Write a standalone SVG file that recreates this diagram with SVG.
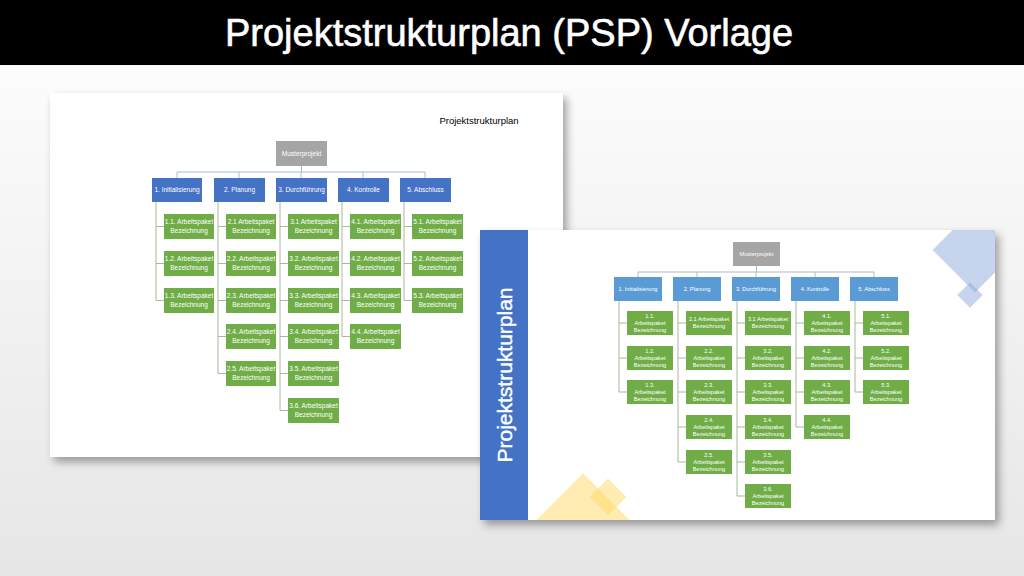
<svg xmlns="http://www.w3.org/2000/svg" width="1024" height="576" viewBox="0 0 1024 576">
<defs>
<linearGradient id="bg" x1="0" y1="0" x2="0" y2="1"><stop offset="0" stop-color="#ffffff"/><stop offset="1" stop-color="#e6e6e6"/></linearGradient>
<filter id="sh" x="-10%" y="-10%" width="130%" height="130%"><feDropShadow dx="4" dy="5" stdDeviation="4" flood-color="#000" flood-opacity="0.35"/></filter>
<clipPath id="cp"><rect x="480" y="230" width="515" height="290"/></clipPath>
</defs>
<style>
text{font-family:"Liberation Sans",Arial,sans-serif;fill:#fff;text-anchor:middle}
.gl{fill:#70AD47}.bl{fill:#4472C4}.br{fill:#5B9BD5}.gy{fill:#A5A5A5}
.t1{font-size:6.5px}.t2{font-size:5.6px}
.c path{fill:none;stroke:#a9bccf;stroke-width:1}
.c .v{stroke:#a7b99a}
.db{fill:#8faadc;fill-opacity:0.5}.dy{fill:#ffd966;fill-opacity:0.5}
</style>
<rect width="1024" height="576" fill="url(#bg)"/>
<rect width="1024" height="65" fill="#000"/>
<text x="509" y="46" style="font-size:38px;stroke:#fff;stroke-width:0.6">Projektstrukturplan (PSP) Vorlage</text>

<g id="slide1">
<rect x="50" y="93" width="513" height="364" fill="#fff" filter="url(#sh)"/>
<text x="479" y="124" style="font-size:9.5px;fill:#000">Projektstrukturplan</text>
</g>
<g class="c" id="conn1">
<path d="M301.5 166V172M177 172H425M177 172V178M239 172V178M301 172V178M363 172V178M425 172V178"/>
<path class="v" d="M156 202V300.5M156 226.5H164M156 263.5H164M156 300.5H164"/>
<path class="v" d="M218 202V373.5M218 226.5H226M218 263.5H226M218 300.5H226M218 336.5H226M218 373.5H226"/>
<path class="v" d="M280 202V410.5M280 226.5H288M280 263.5H288M280 300.5H288M280 336.5H288M280 373.5H288M280 410.5H288"/>
<path class="v" d="M342 202V336.5M342 226.5H350M342 263.5H350M342 300.5H350M342 336.5H350"/>
<path class="v" d="M404 202V300.5M404 226.5H412M404 263.5H412M404 300.5H412"/>
</g>
<g id="l-root"><rect class="gy" x="276" y="141" width="51" height="25"/><text class="t1" x="301.5" y="156">Musterprojekt</text></g>
<g id="l-1"><rect class="bl" x="152" y="178" width="50" height="24"/><text class="t1" x="177" y="192">1. Initialisierung</text></g>
<g id="l-2"><rect class="bl" x="214" y="178" width="51" height="24"/><text class="t1" x="239.5" y="192">2. Planung</text></g>
<g id="l-3"><rect class="bl" x="276" y="178" width="51" height="24"/><text class="t1" x="301.5" y="192">3. Durchführung</text></g>
<g id="l-4"><rect class="bl" x="338" y="178" width="51" height="24"/><text class="t1" x="363.5" y="192">4. Kontrolle</text></g>
<g id="l-5"><rect class="bl" x="400" y="178" width="51" height="24"/><text class="t1" x="425.5" y="192">5. Abschluss</text></g>
<g id="l-wp" class="t1">
<rect class="gl" x="164" y="214" width="50" height="25"/><text class="t1" x="189" y="224">1.1. Arbeitspaket</text><text class="t1" x="189" y="233">Bezeichnung</text>
<rect class="gl" x="164" y="251" width="50" height="25"/><text class="t1" x="189" y="261">1.2. Arbeitspaket</text><text class="t1" x="189" y="270">Bezeichnung</text>
<rect class="gl" x="164" y="288" width="50" height="25"/><text class="t1" x="189" y="298">1.3. Arbeitspaket</text><text class="t1" x="189" y="307">Bezeichnung</text>
<rect class="gl" x="226" y="214" width="50" height="25"/><text class="t1" x="251" y="224">2.1 Arbeitspaket</text><text class="t1" x="251" y="233">Bezeichnung</text>
<rect class="gl" x="226" y="251" width="50" height="25"/><text class="t1" x="251" y="261">2.2. Arbeitspaket</text><text class="t1" x="251" y="270">Bezeichnung</text>
<rect class="gl" x="226" y="288" width="50" height="25"/><text class="t1" x="251" y="298">2.3. Arbeitspaket</text><text class="t1" x="251" y="307">Bezeichnung</text>
<rect class="gl" x="226" y="324" width="50" height="25"/><text class="t1" x="251" y="334">2.4. Arbeitspaket</text><text class="t1" x="251" y="343">Bezeichnung</text>
<rect class="gl" x="226" y="361" width="50" height="25"/><text class="t1" x="251" y="371">2.5. Arbeitspaket</text><text class="t1" x="251" y="380">Bezeichnung</text>
<rect class="gl" x="288" y="214" width="51" height="25"/><text class="t1" x="313.5" y="224">3.1 Arbeitspaket</text><text class="t1" x="313.5" y="233">Bezeichnung</text>
<rect class="gl" x="288" y="251" width="51" height="25"/><text class="t1" x="313.5" y="261">3.2. Arbeitspaket</text><text class="t1" x="313.5" y="270">Bezeichnung</text>
<rect class="gl" x="288" y="288" width="51" height="25"/><text class="t1" x="313.5" y="298">3.3. Arbeitspaket</text><text class="t1" x="313.5" y="307">Bezeichnung</text>
<rect class="gl" x="288" y="324" width="51" height="25"/><text class="t1" x="313.5" y="334">3.4. Arbeitspaket</text><text class="t1" x="313.5" y="343">Bezeichnung</text>
<rect class="gl" x="288" y="361" width="51" height="25"/><text class="t1" x="313.5" y="371">3.5. Arbeitspaket</text><text class="t1" x="313.5" y="380">Bezeichnung</text>
<rect class="gl" x="288" y="398" width="51" height="25"/><text class="t1" x="313.5" y="408">3.6. Arbeitspaket</text><text class="t1" x="313.5" y="417">Bezeichnung</text>
<rect class="gl" x="350" y="214" width="51" height="25"/><text class="t1" x="375.5" y="224">4.1. Arbeitspaket</text><text class="t1" x="375.5" y="233">Bezeichnung</text>
<rect class="gl" x="350" y="251" width="51" height="25"/><text class="t1" x="375.5" y="261">4.2. Arbeitspaket</text><text class="t1" x="375.5" y="270">Bezeichnung</text>
<rect class="gl" x="350" y="288" width="51" height="25"/><text class="t1" x="375.5" y="298">4.3. Arbeitspaket</text><text class="t1" x="375.5" y="307">Bezeichnung</text>
<rect class="gl" x="350" y="324" width="51" height="25"/><text class="t1" x="375.5" y="334">4.4. Arbeitspaket</text><text class="t1" x="375.5" y="343">Bezeichnung</text>
<rect class="gl" x="412" y="214" width="51" height="25"/><text class="t1" x="437.5" y="224">5.1. Arbeitspaket</text><text class="t1" x="437.5" y="233">Bezeichnung</text>
<rect class="gl" x="412" y="251" width="51" height="25"/><text class="t1" x="437.5" y="261">5.2. Arbeitspaket</text><text class="t1" x="437.5" y="270">Bezeichnung</text>
<rect class="gl" x="412" y="288" width="51" height="25"/><text class="t1" x="437.5" y="298">5.3. Arbeitspaket</text><text class="t1" x="437.5" y="307">Bezeichnung</text>
</g>

<g id="slide2">
<rect x="480" y="230" width="515" height="290" fill="#fff" filter="url(#sh)"/>
<g clip-path="url(#cp)">
<rect class="db" x="945" y="220" width="60" height="60" transform="rotate(45 975 250)"/><rect class="db" x="961" y="286" width="18" height="18" transform="rotate(45 970 295)"/>
<rect class="dy" x="550" y="487" width="66" height="66" transform="rotate(45 583 520)"/><rect class="dy" x="595" y="484" width="26" height="26" transform="rotate(45 608 497)"/>
</g>
<rect x="480" y="230" width="48" height="290" fill="#4472C4"/>
<text x="0" y="0" transform="translate(512 375) rotate(-90)" style="font-size:21px;stroke:#fff;stroke-width:0.4">Projektstrukturplan</text>
</g>
<g class="c" id="conn2">
<path d="M756.5 266V272M638 272H874M638 272V277M697 272V277M756 272V277M815 272V277M874 272V277"/>
<path class="v" d="M619 301V392M619 323H627M619 358H627M619 392H627"/>
<path class="v" d="M678 301V462M678 323H686M678 358H686M678 392H686M678 427H686M678 462H686"/>
<path class="v" d="M737 301V496M737 323H745M737 358H745M737 392H745M737 427H745M737 462H745M737 496H745"/>
<path class="v" d="M796 301V427M796 323H804M796 358H804M796 392H804M796 427H804"/>
<path class="v" d="M855 301V392M855 323H863M855 358H863M855 392H863"/>
</g>
<g id="r-root"><rect class="gy" x="733" y="242" width="47" height="24"/><text class="t2" x="756.5" y="256">Musterprojekt</text></g>
<g id="r-1"><rect class="br" x="614" y="277" width="48" height="24"/><text class="t2" x="638" y="291">1. Initialisierung</text></g>
<g id="r-2"><rect class="br" x="673" y="277" width="48" height="24"/><text class="t2" x="697" y="291">2. Planung</text></g>
<g id="r-3"><rect class="br" x="732" y="277" width="48" height="24"/><text class="t2" x="756" y="291">3. Durchführung</text></g>
<g id="r-4"><rect class="br" x="791" y="277" width="48" height="24"/><text class="t2" x="815" y="291">4. Kontrolle</text></g>
<g id="r-5"><rect class="br" x="850" y="277" width="48" height="24"/><text class="t2" x="874" y="291">5. Abschluss</text></g>
<g id="r-wp">
<rect class="gl" x="627" y="311" width="46" height="24"/><text class="t2" x="650" y="318">1.1.</text><text class="t2" x="650" y="325">Arbeitspaket</text><text class="t2" x="650" y="332">Bezeichnung</text>
<rect class="gl" x="627" y="346" width="46" height="24"/><text class="t2" x="650" y="353">1.2.</text><text class="t2" x="650" y="360">Arbeitspaket</text><text class="t2" x="650" y="367">Bezeichnung</text>
<rect class="gl" x="627" y="380" width="46" height="24"/><text class="t2" x="650" y="387">1.3.</text><text class="t2" x="650" y="394">Arbeitspaket</text><text class="t2" x="650" y="401">Bezeichnung</text>
<rect class="gl" x="686" y="311" width="46" height="24"/><text class="t2" x="709" y="321">2.1 Arbeitspaket</text><text class="t2" x="709" y="328">Bezeichnung</text>
<rect class="gl" x="686" y="346" width="46" height="24"/><text class="t2" x="709" y="353">2.2.</text><text class="t2" x="709" y="360">Arbeitspaket</text><text class="t2" x="709" y="367">Bezeichnung</text>
<rect class="gl" x="686" y="380" width="46" height="24"/><text class="t2" x="709" y="387">2.3.</text><text class="t2" x="709" y="394">Arbeitspaket</text><text class="t2" x="709" y="401">Bezeichnung</text>
<rect class="gl" x="686" y="415" width="46" height="24"/><text class="t2" x="709" y="422">2.4.</text><text class="t2" x="709" y="429">Arbeitspaket</text><text class="t2" x="709" y="436">Bezeichnung</text>
<rect class="gl" x="686" y="450" width="46" height="24"/><text class="t2" x="709" y="457">2.5.</text><text class="t2" x="709" y="464">Arbeitspaket</text><text class="t2" x="709" y="471">Bezeichnung</text>
<rect class="gl" x="745" y="311" width="46" height="24"/><text class="t2" x="768" y="321">3.1 Arbeitspaket</text><text class="t2" x="768" y="328">Bezeichnung</text>
<rect class="gl" x="745" y="346" width="46" height="24"/><text class="t2" x="768" y="353">3.2.</text><text class="t2" x="768" y="360">Arbeitspaket</text><text class="t2" x="768" y="367">Bezeichnung</text>
<rect class="gl" x="745" y="380" width="46" height="24"/><text class="t2" x="768" y="387">3.3.</text><text class="t2" x="768" y="394">Arbeitspaket</text><text class="t2" x="768" y="401">Bezeichnung</text>
<rect class="gl" x="745" y="415" width="46" height="24"/><text class="t2" x="768" y="422">3.4.</text><text class="t2" x="768" y="429">Arbeitspaket</text><text class="t2" x="768" y="436">Bezeichnung</text>
<rect class="gl" x="745" y="450" width="46" height="24"/><text class="t2" x="768" y="457">3.5.</text><text class="t2" x="768" y="464">Arbeitspaket</text><text class="t2" x="768" y="471">Bezeichnung</text>
<rect class="gl" x="745" y="484" width="46" height="24"/><text class="t2" x="768" y="491">3.6.</text><text class="t2" x="768" y="498">Arbeitspaket</text><text class="t2" x="768" y="505">Bezeichnung</text>
<rect class="gl" x="804" y="311" width="46" height="24"/><text class="t2" x="827" y="318">4.1.</text><text class="t2" x="827" y="325">Arbeitspaket</text><text class="t2" x="827" y="332">Bezeichnung</text>
<rect class="gl" x="804" y="346" width="46" height="24"/><text class="t2" x="827" y="353">4.2.</text><text class="t2" x="827" y="360">Arbeitspaket</text><text class="t2" x="827" y="367">Bezeichnung</text>
<rect class="gl" x="804" y="380" width="46" height="24"/><text class="t2" x="827" y="387">4.3.</text><text class="t2" x="827" y="394">Arbeitspaket</text><text class="t2" x="827" y="401">Bezeichnung</text>
<rect class="gl" x="804" y="415" width="46" height="24"/><text class="t2" x="827" y="422">4.4.</text><text class="t2" x="827" y="429">Arbeitspaket</text><text class="t2" x="827" y="436">Bezeichnung</text>
<rect class="gl" x="863" y="311" width="46" height="24"/><text class="t2" x="886" y="318">5.1.</text><text class="t2" x="886" y="325">Arbeitspaket</text><text class="t2" x="886" y="332">Bezeichnung</text>
<rect class="gl" x="863" y="346" width="46" height="24"/><text class="t2" x="886" y="353">5.2.</text><text class="t2" x="886" y="360">Arbeitspaket</text><text class="t2" x="886" y="367">Bezeichnung</text>
<rect class="gl" x="863" y="380" width="46" height="24"/><text class="t2" x="886" y="387">5.3.</text><text class="t2" x="886" y="394">Arbeitspaket</text><text class="t2" x="886" y="401">Bezeichnung</text>
</g>
</svg>
